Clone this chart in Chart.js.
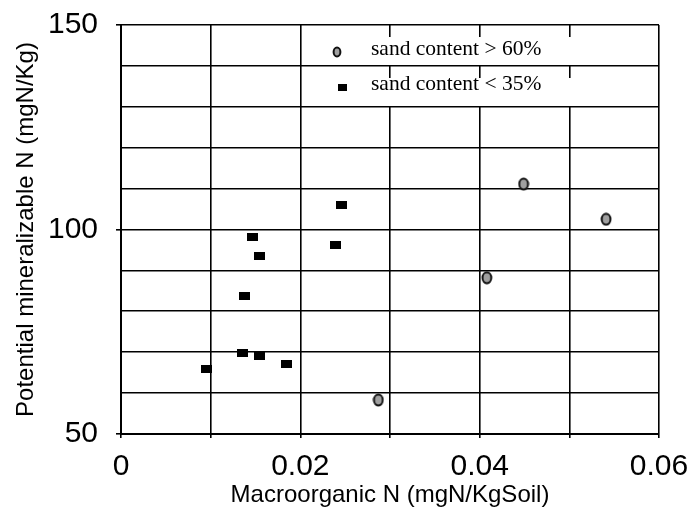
<!DOCTYPE html>
<html>
<head>
<meta charset="utf-8">
<script src="https://cdn.jsdelivr.net/npm/chart.js@4.4.0/dist/chart.umd.min.js"></script>
<style>
  body { margin: 0; background: #fff; }
</style>
</head>
<body>
<canvas id="chart" width="687" height="515"></canvas>
<script>
const sandHighX = [0.0287, 0.0408, 0.0449, 0.0541];
const sandHighY = [58.3, 88.2, 111.1, 102.5];
const sandLowX = [0.0095, 0.0135, 0.0138, 0.0147, 0.0154, 0.0154, 0.0185, 0.0239, 0.0246];
const sandLowY = [65.8, 69.8, 83.7, 98.2, 69.1, 93.4, 67.1, 96.2, 106.1];
const xTickLabels = [0, 0.02, 0.04, 0.06];
const yTickLabels = [50, 100, 150];
const seriesNames = ['sand content > 60%', 'sand content < 35%'];

const sansFont = '"Liberation Sans", Arial, Helvetica, sans-serif';
const serifFont = '"Liberation Serif", "Times New Roman", serif';

function toPoints(xs, ys) {
  return xs.map((x, i) => ({ x: x, y: ys[i] }));
}

// grey dotted ellipse with a dark rim
function dotMarker(w, h) {
  const c = document.createElement('canvas');
  c.width = w + 2;
  c.height = h + 2;
  const g = c.getContext('2d');
  g.beginPath();
  g.ellipse(c.width / 2, c.height / 2, w / 2 - 0.6, h / 2 - 0.6, 0, 0, Math.PI * 2);
  g.fillStyle = '#a0a0a0';
  g.fill();
  g.lineWidth = 2;
  g.strokeStyle = '#111';
  g.stroke();
  return c;
}

function boxMarker(w, h) {
  const c = document.createElement('canvas');
  c.width = w;
  c.height = h;
  const g = c.getContext('2d');
  g.fillStyle = '#000';
  g.fillRect(0, 0, w, h);
  return c;
}

const dotImg = dotMarker(10, 12);
const boxImg = boxMarker(11, 8);
const dotKey = dotMarker(8, 10);
const boxKey = boxMarker(9, 7);

function isLabelled(list, v) {
  return list.some(t => Math.abs(t - v) < 1e-9);
}

// legend rows sit on white strips inside the plot frame
const boxLegend = {
  id: 'boxLegend',
  afterDatasetsDraw(chart) {
    const ctx = chart.ctx;
    const a = chart.chartArea;
    const x0 = a.left + 197;
    const w = a.right - x0 - 3;
    ctx.save();
    ctx.fillStyle = '#fff';
    ctx.fillRect(x0, a.top + 12, w, 28);
    ctx.fillRect(x0, a.top + 53, w, 28);

    ctx.drawImage(dotKey, a.left + 216 - dotKey.width / 2, a.top + 27 - dotKey.height / 2);
    ctx.drawImage(boxKey, a.left + 221 - boxKey.width / 2, a.top + 62 - boxKey.height / 2);

    ctx.fillStyle = '#000';
    ctx.font = '21.5px ' + serifFont;
    ctx.textBaseline = 'alphabetic';
    ctx.textAlign = 'left';
    ctx.fillText(seriesNames[0], a.left + 250, a.top + 30);
    ctx.fillText(seriesNames[1], a.left + 250, a.top + 65);
    ctx.restore();
  }
};

new Chart(document.getElementById('chart').getContext('2d'), {
  type: 'scatter',
  data: {
    datasets: [{
      label: seriesNames[0],
      data: toPoints(sandHighX, sandHighY),
      pointStyle: dotImg,
    }, {
      label: seriesNames[1],
      data: toPoints(sandLowX, sandLowY),
      pointStyle: boxImg,
    }]
  },
  options: {
    responsive: false,
    animation: false,
    layout: {
      padding: { top: 25, right: 28, left: 0, bottom: 0 }
    },
    plugins: {
      legend: { display: false },
      tooltip: { enabled: false }
    },
    scales: {
      x: {
        type: 'linear',
        min: 0,
        max: 0.06,
        afterFit(s) {
          s.height = 81;
          s.paddingLeft = 0;
          s.paddingRight = 0;
        },
        border: { color: '#000', width: 2 },
        grid: {
          color: '#000',
          lineWidth: 1.6,
          tickLength: 4,
          tickColor: '#000'
        },
        ticks: {
          stepSize: 0.01,
          autoSkip: false,
          maxRotation: 0,
          padding: 11,
          color: '#000',
          font: { family: sansFont, size: 30 },
          callback: (v) => isLabelled(xTickLabels, v) ? String(xTickLabels.find(t => Math.abs(t - v) < 1e-9)) : ''
        },
        title: {
          display: true,
          text: 'Macroorganic N (mgN/KgSoil)',
          color: '#000',
          font: { family: sansFont, size: 24 },
          padding: { top: 0, bottom: 5 }
        }
      },
      y: {
        min: 50,
        max: 150,
        afterFit(s) {
          s.width = 121;
          s.paddingTop = 0;
          s.paddingBottom = 0;
        },
        border: { color: '#000', width: 2 },
        grid: {
          color: '#000',
          lineWidth: 1.6,
          tickLength: 5,
          tickColor: (c) => c.tick && isLabelled(yTickLabels, c.tick.value) ? '#000' : 'rgba(0,0,0,0)'
        },
        ticks: {
          stepSize: 10,
          autoSkip: false,
          padding: 18,
          color: '#000',
          font: { family: sansFont, size: 30 },
          callback: (v) => isLabelled(yTickLabels, v) ? String(v) : ''
        },
        title: {
          display: true,
          text: 'Potential mineralizable N (mgN/Kg)',
          color: '#000',
          font: { family: sansFont, size: 24 },
          padding: { top: 12, bottom: 0 }
        }
      }
    }
  },
  plugins: [boxLegend]
});
</script>
</body>
</html>
